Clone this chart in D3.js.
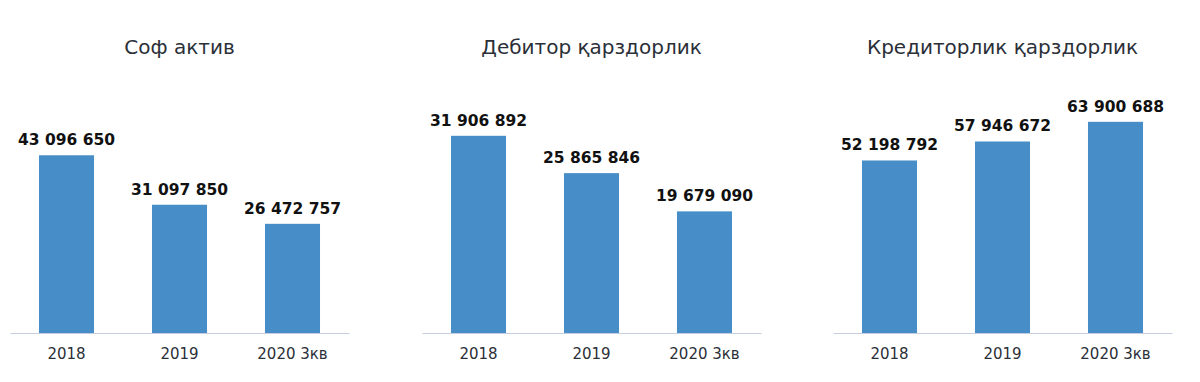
<!DOCTYPE html>
<html><head><meta charset="utf-8">
<script src="https://cdn.jsdelivr.net/npm/d3@7"></script>
<style>body{margin:0;background:#fff}svg{display:block}</style>
</head><body>
<script>
const categories = ["2018", "2019", "2020 3кв"];
const titles = ["Соф актив", "Дебитор қарздорлик", "Кредиторлик қарздорлик"];
const sofAktiv = [43096650, 31097850, 26472757];
const debitor = [31906892, 25865846, 19679090];
const kreditor = [52198792, 57946672, 63900688];
const series = [sofAktiv, debitor, kreditor];
const yMax = [56500000, 37700000, 70500000];

const W = 1200, H = 382;
const svg = d3.select("body").append("svg").attr("width", W).attr("height", H);
const panelX = [10, 422, 833];
const panelW = 339;
const baseY = 333, topY = 100;
const fmt = v => d3.format(",")(v).replace(/,/g, " ");

series.forEach((vals, i) => {
  const g = svg.append("g").attr("transform", `translate(${panelX[i]},0)`);
  const x = d3.scaleBand().domain(categories).range([0, panelW]).paddingInner(0.513).paddingOuter(0.2565);
  const y = d3.scaleLinear().domain([0, yMax[i]]).range([baseY, topY]);
  g.append("text").attr("x", panelW / 2).attr("y", 54).attr("text-anchor", "middle")
    .attr("font-family", "DejaVu Sans").attr("font-size", 20).attr("fill", "#2b2f38").text(titles[i]);
  g.selectAll("rect").data(vals).join("rect")
    .attr("x", (d, j) => x(categories[j])).attr("width", x.bandwidth())
    .attr("y", d => y(d)).attr("height", d => baseY - y(d)).attr("fill", "#478dc7");
  g.selectAll(".val").data(vals).join("text").attr("class", "val")
    .attr("x", (d, j) => x(categories[j]) + x.bandwidth() / 2).attr("y", d => y(d) - 10)
    .attr("text-anchor", "middle").attr("font-family", "DejaVu Sans").attr("font-weight", "bold")
    .attr("font-size", 15.5).attr("fill", "#111").text(d => fmt(d));
  const ax = g.append("g").attr("transform", `translate(0,${baseY})`).call(d3.axisBottom(x).tickSize(0).tickPadding(15));
  ax.select(".domain").attr("stroke", "#c5cde0").attr("stroke-width", 1.2);
  ax.selectAll("text").attr("font-family", "DejaVu Sans").attr("font-size", 15).attr("fill", "#2b2f38");
});
</script>
</body></html>
